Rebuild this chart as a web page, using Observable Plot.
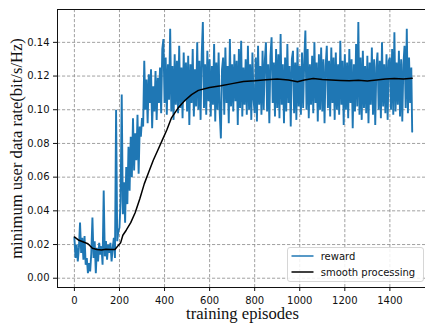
<!DOCTYPE html>
<html><head><meta charset="utf-8">
<script src="https://cdn.jsdelivr.net/npm/d3@7"></script>
<script src="https://cdn.jsdelivr.net/npm/@observablehq/plot@0.6"></script>
<style>html,body{margin:0;padding:0;background:#fff;overflow:hidden} svg{display:block}</style>
</head><body><div id="chart"></div>
<script>
// ---- data ----
const rewardStep = 5; // one reading every 5 episodes
const rewardValues = [
  0.024,0.012,0.020,0.010,0.018,0.033,0.015,0.024,0.011,0.025,0.008,0.012,0.003,0.009,0.004,0.015,0.036,0.012,0.022,0.003,
  0.018,0.010,0.021,0.014,0.019,0.008,0.052,0.013,0.022,0.011,0.020,0.015,0.021,0.010,0.018,0.024,0.012,0.100,0.022,0.028,
  0.030,0.046,0.109,0.038,0.057,0.033,0.066,0.044,0.078,0.052,0.084,0.060,0.095,0.064,0.086,0.070,0.097,0.062,0.090,0.084,
  0.095,0.090,0.129,0.100,0.118,0.092,0.121,0.104,0.124,0.089,0.114,0.099,0.123,0.094,0.119,0.104,0.125,0.098,0.136,0.142,
  0.104,0.131,0.097,0.127,0.106,0.148,0.099,0.126,0.094,0.133,0.103,0.129,0.098,0.138,0.101,0.125,0.095,0.134,0.105,0.128,
  0.099,0.132,0.091,0.127,0.104,0.136,0.096,0.124,0.102,0.140,0.100,0.129,0.094,0.133,0.152,0.101,0.127,0.097,0.135,0.105,
  0.130,0.096,0.126,0.103,0.139,0.093,0.128,0.100,0.134,0.098,0.083,0.124,0.131,0.097,0.137,0.104,0.126,0.092,0.142,0.102,
  0.127,0.099,0.133,0.105,0.129,0.091,0.136,0.101,0.141,0.096,0.125,0.103,0.130,0.097,0.138,0.100,0.127,0.094,0.134,0.106,
  0.098,0.131,0.093,0.138,0.103,0.126,0.097,0.135,0.100,0.129,0.140,0.099,0.127,0.092,0.132,0.143,0.104,0.128,0.096,0.136,
  0.101,0.133,0.095,0.145,0.103,0.127,0.092,0.131,0.099,0.139,0.104,0.126,0.090,0.130,0.135,0.098,0.128,0.094,0.137,0.102,
  0.126,0.097,0.134,0.101,0.129,0.147,0.100,0.136,0.095,0.127,0.103,0.132,0.098,0.140,0.104,0.128,0.093,0.133,0.100,0.137,
  0.099,0.130,0.092,0.126,0.138,0.101,0.129,0.096,0.137,0.104,0.131,0.094,0.134,0.100,0.127,0.097,0.141,0.103,0.129,0.091,
  0.133,0.100,0.128,0.095,0.136,0.104,0.130,0.089,0.127,0.099,0.139,0.102,0.152,0.097,0.131,0.094,0.135,0.101,0.126,0.098,
  0.132,0.092,0.128,0.103,0.137,0.097,0.130,0.091,0.125,0.134,0.100,0.129,0.095,0.140,0.102,0.127,0.098,0.133,0.094,0.129,
  0.131,0.100,0.136,0.097,0.146,0.099,0.128,0.103,0.135,0.096,0.130,0.093,0.127,0.138,0.101,0.148,0.098,0.131,0.104,0.125
];
const rewardLastEpisode = 1499;
const rewardLastValue = 0.087;

const smoothEpisodes = [0,20,40,60,80,100,120,140,160,180,195,205,215,230,250,270,290,310,330,350,370,390,410,430,460,490,520,550,600,650,700,750,800,850,900,950,990,1020,1060,1100,1140,1180,1220,1260,1300,1340,1380,1420,1460,1499];
const smoothValues = [0.0245,0.0225,0.0215,0.0205,0.0178,0.0170,0.0168,0.0172,0.0171,0.0170,0.0195,0.0210,0.0255,0.0285,0.0330,0.0390,0.0470,0.0560,0.0630,0.0700,0.0760,0.0820,0.0880,0.0950,0.1010,0.1055,0.1090,0.1115,0.1132,0.1142,0.1155,0.1168,0.1172,0.1178,0.1182,0.1176,0.1166,0.1176,0.1185,0.1180,0.1177,0.1174,0.1172,0.1175,0.1171,0.1176,0.1182,0.1185,0.1183,0.1187];

const xTicks = [0,200,400,600,800,1000,1200,1400];
const yTicks = [0.00,0.02,0.04,0.06,0.08,0.10,0.12,0.14];
const xDomain = [-75, 1574];
const yDomain = [-0.0055, 0.1595];
const seriesNames = ["reward", "smooth processing"];
const seriesColors = ["#1f77b4", "#000000"];
const xLabel = "training episodes";
const yLabel = "minimum user data rate(bit/s/Hz)";

// ---- build tables ----
const reward = rewardValues.map((v, i) => ({episode: i * rewardStep, value: v}));
reward.push({episode: rewardLastEpisode, value: rewardLastValue});
const smooth = smoothEpisodes.map((e, i) => ({episode: e, value: smoothValues[i]}));

// ---- layout ----
const W = 425, H = 328, mL = 57, mT = 9, mB = 41, xRight = 428.6;
const gridStyle = {stroke: "#8a8a8a", strokeOpacity: 1, strokeDasharray: "3.2,1.8", strokeWidth: 0.8};

const plot = Plot.plot({
  width: W, height: H,
  marginLeft: mL, marginTop: mT, marginBottom: mB, marginRight: 0,
  style: {fontFamily: "DejaVu Sans", fontSize: "10px", color: "#111", background: "#fff"},
  x: {domain: xDomain, range: [mL, xRight]},
  y: {domain: yDomain},
  marks: [
    Plot.gridX(xTicks, gridStyle),
    Plot.gridY(yTicks, gridStyle),
    Plot.line(reward, {x: "episode", y: "value", stroke: seriesColors[0], strokeWidth: 1.9, strokeLinejoin: "miter"}),
    Plot.line(smooth, {x: "episode", y: "value", stroke: seriesColors[1], strokeWidth: 1.5}),
    Plot.ruleX([xDomain[0]], {stroke: "#111", strokeWidth: 1}),
    Plot.ruleY(yDomain, {stroke: "#111", strokeWidth: 1}),
    Plot.axisX(xTicks, {tickSize: 4, tickPadding: 5, tickFormat: d => String(d), label: null}),
    Plot.axisY(yTicks, {tickSize: 4, tickPadding: 4, tickFormat: d3.format(".2f"), label: null})
  ]
});
document.getElementById("chart").appendChild(plot);

const svg = d3.select(plot);
// axis titles
svg.append("text")
  .attr("x", 242.5).attr("y", 319.3)
  .attr("text-anchor", "middle")
  .attr("font-family", "Liberation Serif").attr("font-size", "16.6px").attr("fill", "#111")
  .text(xLabel);
svg.append("text")
  .attr("transform", "translate(21.5,148.5) rotate(-90)")
  .attr("text-anchor", "middle")
  .attr("font-family", "Liberation Serif").attr("font-size", "16.6px").attr("fill", "#111")
  .text(yLabel);

// legend
const lg = svg.append("g").attr("text-anchor", "start");
lg.append("rect")
  .attr("x", 287.5).attr("y", 247.5).attr("width", 136).attr("height", 34).attr("rx", 2.5)
  .attr("fill", "#ffffff").attr("fill-opacity", 0.85).attr("stroke", "#cccccc").attr("stroke-width", 0.8);
seriesNames.forEach((name, i) => {
  const cy = 256 + i * 16;
  lg.append("line").attr("x1", 291.5).attr("x2", 313.5).attr("y1", cy).attr("y2", cy)
    .attr("stroke", seriesColors[i]).attr("stroke-width", 1.5);
  lg.append("text").attr("x", 320.7).attr("y", cy + 3.5)
    .attr("text-anchor", "start")
    .attr("font-family", "DejaVu Sans").attr("font-size", "10px").attr("fill", "#111")
    .text(name);
});
</script>
</body></html>
